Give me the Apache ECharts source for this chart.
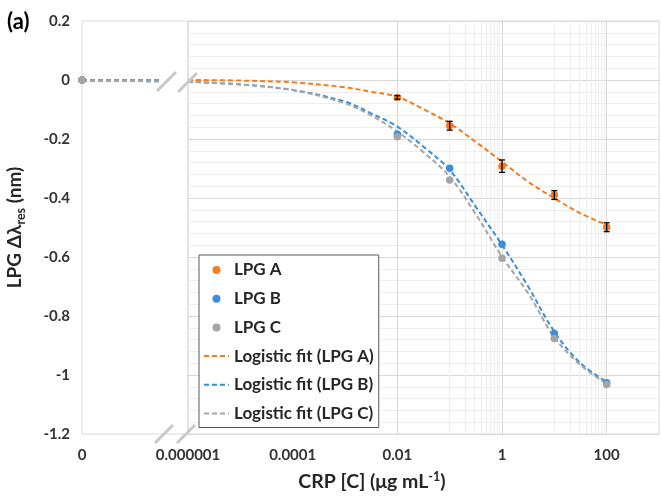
<!DOCTYPE html>
<html><head><meta charset="utf-8">
<script src="https://cdn.jsdelivr.net/npm/echarts@6/dist/echarts.min.js"></script>
<style>html,body{margin:0;padding:0;background:#fff}#c{width:662px;height:496px}</style>
</head><body><div id="c"></div>
<script>
const FONT = 'Lato, "Open Sans", sans-serif';
// ---------- data ----------
const seriesNames = ['LPG A', 'LPG B', 'LPG C'];
const fitNames = ['Logistic fit (LPG A)', 'Logistic fit (LPG B)', 'Logistic fit (LPG C)'];
const concentrations = [0.01, 0.1, 1, 10, 100];
const lpgA = [-0.059, -0.155, -0.292, -0.390, -0.499];
const lpgAErr = [0.006, 0.015, 0.021, 0.015, 0.015];
const lpgB = [-0.184, -0.299, -0.557, -0.859, -1.026];
const lpgC = [-0.192, -0.339, -0.604, -0.876, -1.032];
const zeroValues = [0, 0, 0];           // response at C = 0 (A, B, C)
const fitX = [1e-6, 1e-5, 1e-4, 1e-3, 0.00316, 0.01, 0.0316, 0.1, 0.316, 1, 3.16, 10, 31.6, 100];
const fitA = [0, -0.002, -0.008, -0.025, -0.040, -0.057, -0.099, -0.147, -0.210, -0.277, -0.345, -0.401, -0.452, -0.491];
const fitB = [-0.006, -0.015, -0.034, -0.073, -0.113, -0.158, -0.226, -0.305, -0.430, -0.559, -0.700, -0.853, -0.960, -1.023];
const fitC = [-0.006, -0.015, -0.034, -0.079, -0.120, -0.175, -0.245, -0.328, -0.455, -0.599, -0.723, -0.872, -0.966, -1.030];
const fitLeftX = [0, 0.74];             // zero segment before the axis break
const fitLeftA = [0, 0];
const fitLeftB = [-0.003, -0.004];
const fitLeftC = [-0.003, -0.004];
const xTickValues = [1e-6, 1e-4, 1e-2, 1, 100];
const xTickLabels = ['0.000001', '0.0001', '0.01', '1', '100'];
const zeroTickLabel = '0';
// --------------------------

const colors = ['#F47B20', '#3A8EDB', '#A5A5A5'];
const pts = [lpgA, lpgB, lpgC];
const fits = [fitA, fitB, fitC];
const fitsLeft = [fitLeftA, fitLeftB, fitLeftC];
const zip = (xs, ys) => xs.map((x, i) => [x, ys[i]]);

// vertical grid lines on the log section (major every 2 decades, minor 10..90 x major)
const vLines = [];
xTickValues.forEach(m => {
  vLines.push({ xAxis: m, lineStyle: { color: '#d9d9d9', width: 1, type: 'solid' } });
  for (let k = 1; k <= 9; k++) {
    const v = m * 10 * k;
    if (v < 1000) vLines.push({ xAxis: v, lineStyle: { color: '#eeeeee', width: 1, type: 'solid' } });
  }
});

const series = [];
series.push({
  type: 'line', xAxisIndex: 1, yAxisIndex: 1, data: [], silent: true, z: 1,
  markLine: { silent: true, symbol: ['none', 'none'], label: { show: false }, animation: false, z: 1, data: vLines }
});
for (let i = 0; i < 3; i++) {
  const ls = { color: colors[i], width: 2, type: [5, 3] };
  series.push({ type: 'line', name: fitNames[i], xAxisIndex: 0, yAxisIndex: 0, data: zip(fitLeftX, fitsLeft[i]),
    symbol: 'none', lineStyle: ls, itemStyle: { color: colors[i] }, z: 2 });
  series.push({ type: 'line', name: fitNames[i], xAxisIndex: 1, yAxisIndex: 1, data: zip(fitX, fits[i]),
    symbol: 'none', smooth: 0.35, lineStyle: ls, itemStyle: { color: colors[i] }, z: 2 });
}
for (let i = 0; i < 3; i++) {
  series.push({ type: 'scatter', name: seriesNames[i], xAxisIndex: 1, yAxisIndex: 1, data: zip(concentrations, pts[i]),
    symbol: 'circle', symbolSize: 7.5, itemStyle: { color: colors[i], opacity: 1 }, z: 3 });
  series.push({ type: 'scatter', name: seriesNames[i], xAxisIndex: 0, yAxisIndex: 0, data: [[0, zeroValues[i]]],
    symbol: 'circle', symbolSize: 7.5, itemStyle: { color: colors[i], opacity: 1 }, z: 3 });
}
series.push({
  type: 'custom', xAxisIndex: 1, yAxisIndex: 1, z: 3.5, silent: true,
  data: concentrations.map((x, i) => [x, lpgA[i], lpgAErr[i]]),
  renderItem: (params, api) => {
    const x = api.value(0), y = api.value(1), e = api.value(2);
    const top = api.coord([x, y + e]), bot = api.coord([x, y - e]);
    const w = 3;
    const st = { stroke: '#000', lineWidth: 1.3 };
    return { type: 'group', children: [
      { type: 'line', shape: { x1: top[0], y1: top[1], x2: bot[0], y2: bot[1] }, style: st },
      { type: 'line', shape: { x1: top[0] - w, y1: top[1], x2: top[0] + w, y2: top[1] }, style: st },
      { type: 'line', shape: { x1: bot[0] - w, y1: bot[1], x2: bot[0] + w, y2: bot[1] }, style: st }
    ]};
  }
});

const tickLabelStyle = { color: '#333', fontSize: 15, fontWeight: 'bold', fontFamily: FONT };
const findLabel = v => {
  for (let i = 0; i < xTickValues.length; i++) {
    if (Math.abs(Math.log10(v) - Math.log10(xTickValues[i])) < 1e-6) return xTickLabels[i];
  }
  return '';
};

const option = {
  animation: false,
  backgroundColor: '#fff',
  grid: [
    { left: 82, top: 21, width: 106, height: 413, show: true, borderColor: '#d9d9d9', borderWidth: 1, backgroundColor: 'transparent', containLabel: false },
    { left: 188, top: 21, right: 1, height: 413, show: true, borderColor: '#d9d9d9', borderWidth: 1, backgroundColor: 'transparent', containLabel: false }
  ],
  xAxis: [
    { type: 'value', gridIndex: 0, min: 0, max: 1, interval: 1,
      axisLine: { show: false }, axisTick: { show: false }, splitLine: { show: false },
      axisLabel: Object.assign({ margin: 14, formatter: v => (v === 0 ? zeroTickLabel : '') }, tickLabelStyle) },
    { type: 'log', gridIndex: 1, logBase: 10, min: 1e-6, max: 1000,
      axisLine: { show: false }, axisTick: { show: false }, splitLine: { show: false }, minorSplitLine: { show: false },
      axisLabel: Object.assign({ margin: 14, formatter: v => findLabel(v) }, tickLabelStyle) }
  ],
  yAxis: [
    { type: 'value', gridIndex: 0, min: -1.2, max: 0.2, interval: 0.2,
      axisLine: { show: false }, axisTick: { show: false }, splitLine: { show: false },
      axisLabel: Object.assign({ margin: 12 }, tickLabelStyle),
      name: '{t|LPG Δλ}{s|res}{t| (nm)}', nameLocation: 'middle', nameRotate: 90, nameGap: 55,
      nameTextStyle: { color: '#262626', rich: {
        t: { fontSize: 19, fontWeight: 'bold', fontFamily: FONT, color: '#262626', lineHeight: 24 },
        s: { fontSize: 12.5, fontWeight: 'bold', fontFamily: FONT, color: '#262626', lineHeight: 13, verticalAlign: 'bottom' }
      } } },
    { type: 'value', gridIndex: 1, min: -1.2, max: 0.2, interval: 0.2,
      axisLine: { show: false }, axisTick: { show: false }, axisLabel: { show: false },
      splitLine: { show: true, lineStyle: { color: '#d9d9d9', width: 1 } },
      minorTick: { show: false, splitNumber: 5 },
      minorSplitLine: { show: true, lineStyle: { color: '#eeeeee', width: 1 } } }
  ],
  legend: {
    orient: 'vertical', left: 199, top: 255,
    padding: [5, 5, 4, 4], itemGap: 8.7, itemWidth: 25, itemHeight: 8,
    backgroundColor: '#fff', borderColor: '#595959', borderWidth: 1, borderRadius: 0,
    textStyle: { color: '#262626', fontSize: 17, fontWeight: 'bold', fontFamily: FONT, lineHeight: 20 },
    selectedMode: false,
    data: seriesNames.map(n => ({ name: n, icon: 'circle' }))
      .concat(fitNames.map(n => ({ name: n, itemStyle: { opacity: 0, borderWidth: 0 } })))
  },
  graphic: [
    { type: 'text', left: 7, top: 11, style: { text: '(a)', fontSize: 22, fontWeight: 'bold', fontFamily: FONT, fill: '#000' } },
    { type: 'text', x: 372, y: 482, style: {
        text: '{t|CRP [C] (μg mL}{s|-1}{t|)}', align: 'center', verticalAlign: 'middle', textAlign: 'center', textVerticalAlign: 'middle',
        fill: '#262626',
        rich: {
          t: { fontSize: 19.5, fontWeight: 'bold', fontFamily: FONT, fill: '#262626', color: '#262626', lineHeight: 24 },
          s: { fontSize: 12.5, fontWeight: 'bold', fontFamily: FONT, fill: '#262626', color: '#262626', lineHeight: 14, verticalAlign: 'top' }
        } } },
    { type: 'line', z: 50, shape: { x1: 157, y1: 91, x2: 176, y2: 72 }, style: { stroke: '#c8c8c8', lineWidth: 3 } },
    { type: 'line', z: 50, shape: { x1: 178, y1: 92, x2: 197, y2: 73 }, style: { stroke: '#c8c8c8', lineWidth: 3 } },
    { type: 'line', z: 50, shape: { x1: 155, y1: 443, x2: 173, y2: 425 }, style: { stroke: '#c8c8c8', lineWidth: 3 } },
    { type: 'line', z: 50, shape: { x1: 177, y1: 443, x2: 195, y2: 425 }, style: { stroke: '#c8c8c8', lineWidth: 3 } }
  ],
  series: series
};

const chart = echarts.init(document.getElementById('c'), null, { renderer: 'canvas' });
chart.setOption(option);
</script>
</body></html>
